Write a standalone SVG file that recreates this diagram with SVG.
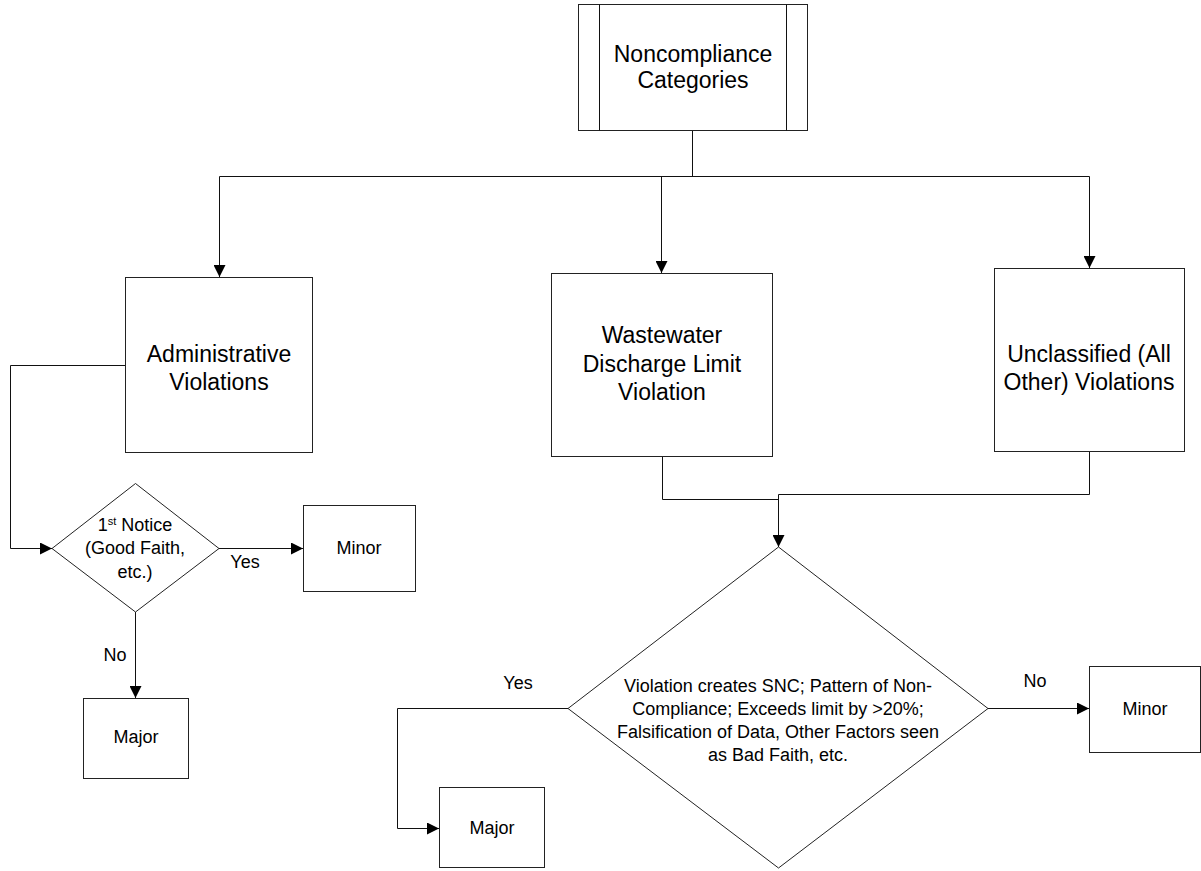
<svg xmlns="http://www.w3.org/2000/svg" width="1201" height="871" viewBox="0 0 1201 871">
  <style>
    .box { fill: #ffffff; stroke: #222222; stroke-width: 1; }
    .edge { fill: none; stroke: #111111; stroke-width: 1; }
    .big { font-family: "Liberation Sans", Arial, sans-serif; font-size: 23px; fill: #000; text-anchor: middle; }
    .small { font-family: "Liberation Sans", Arial, sans-serif; font-size: 18px; fill: #000; text-anchor: middle; }
    .sup { font-size: 11px; }
  </style>
  <defs>
    <marker id="arrow" markerUnits="userSpaceOnUse" markerWidth="12" markerHeight="12" refX="12" refY="6" orient="auto">
      <path d="M0,0 L12,6 L0,12 Z" fill="#000"/>
    </marker>
  </defs>

  <rect width="1201" height="871" fill="#ffffff"/>

  <!-- connectors -->
  <g id="connectors" class="edge">
    <path d="M692.5,130 V176.5"/>
    <path d="M219.5,176.5 H1089.5"/>
    <path d="M219.5,176.5 V277" marker-end="url(#arrow)"/>
    <path d="M661.5,176.5 V273" marker-end="url(#arrow)"/>
    <path d="M1089.5,176.5 V268" marker-end="url(#arrow)"/>
    <path d="M125,365.5 H10.5 V548.5 H52" marker-end="url(#arrow)"/>
    <path d="M219,548.5 H303" marker-end="url(#arrow)"/>
    <path d="M135.5,612 V698" marker-end="url(#arrow)"/>
    <path d="M662.5,456 V499.5 H778.5"/>
    <path d="M1089.5,451 V494.5 H778.5 V547" marker-end="url(#arrow)"/>
    <path d="M568,708.5 H397.5 V828.5 H439" marker-end="url(#arrow)"/>
    <path d="M988,708.5 H1089" marker-end="url(#arrow)"/>
  </g>

  <!-- edge labels -->
  <g id="edge-labels" class="small">
    <text x="245" y="568">Yes</text>
    <text x="115" y="661">No</text>
    <text x="518" y="689">Yes</text>
    <text x="1035" y="687">No</text>
  </g>

  <!-- root: predefined process -->
  <g id="node-categories">
    <rect class="box" x="578.5" y="4.5" width="229" height="126"/>
    <path class="edge" d="M599.5,4.5 V130.5 M786.5,4.5 V130.5"/>
    <text class="big" x="693" y="62">Noncompliance</text>
    <text class="big" x="693" y="88">Categories</text>
  </g>

  <g id="node-administrative">
    <rect class="box" x="125.5" y="277.5" width="187" height="175"/>
    <text class="big" x="219" y="362">Administrative</text>
    <text class="big" x="219" y="390">Violations</text>
  </g>

  <g id="node-wastewater">
    <rect class="box" x="551.5" y="273.5" width="221" height="183"/>
    <text class="big" x="662" y="343">Wastewater</text>
    <text class="big" x="662" y="372">Discharge Limit</text>
    <text class="big" x="662" y="400">Violation</text>
  </g>

  <g id="node-unclassified">
    <rect class="box" x="994.5" y="268.5" width="190" height="183"/>
    <text class="big" x="1089" y="362">Unclassified (All</text>
    <text class="big" x="1089" y="390">Other) Violations</text>
  </g>

  <g id="node-first-notice">
    <polygon class="box" points="135.5,483.5 219,548.5 135.5,612 52,548.5"/>
    <text class="small" x="135" y="531">1<tspan class="sup" dy="-6">st</tspan><tspan dy="6"> Notice</tspan></text>
    <text class="small" x="135" y="554">(Good Faith,</text>
    <text class="small" x="135" y="578">etc.)</text>
  </g>

  <g id="node-minor-admin">
    <rect class="box" x="303.5" y="505.5" width="112" height="86"/>
    <text class="small" x="359" y="554">Minor</text>
  </g>

  <g id="node-major-admin">
    <rect class="box" x="83.5" y="698.5" width="105" height="80"/>
    <text class="small" x="136" y="743">Major</text>
  </g>

  <g id="node-snc-decision">
    <polygon class="box" points="778.5,547 988,708.5 778.5,868 568,708.5"/>
    <text class="small" x="778" y="692">Violation creates SNC; Pattern of Non-</text>
    <text class="small" x="778" y="715">Compliance; Exceeds limit by &gt;20%;</text>
    <text class="small" x="778" y="738">Falsification of Data, Other Factors seen</text>
    <text class="small" x="778" y="761">as Bad Faith, etc.</text>
  </g>

  <g id="node-major-discharge">
    <rect class="box" x="439.5" y="787.5" width="105" height="80"/>
    <text class="small" x="492" y="834">Major</text>
  </g>

  <g id="node-minor-discharge">
    <rect class="box" x="1089.5" y="666.5" width="111" height="86"/>
    <text class="small" x="1145" y="715">Minor</text>
  </g>
</svg>
